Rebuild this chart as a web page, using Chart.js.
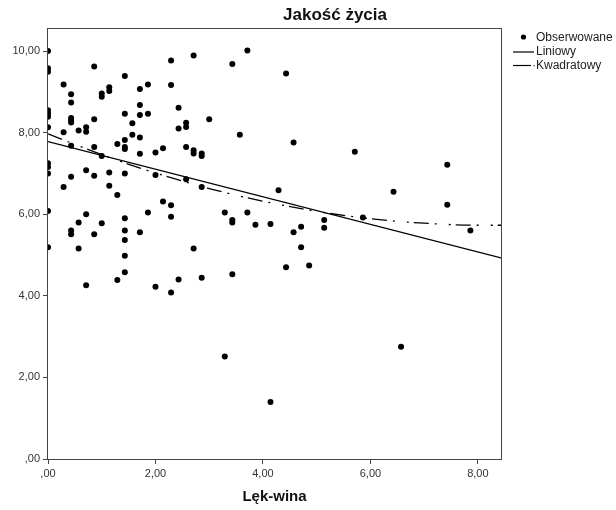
<!DOCTYPE html>
<html>
<head>
<meta charset="utf-8">
<script src="https://cdn.jsdelivr.net/npm/chart.js@4.4.1/dist/chart.umd.min.js"></script>
<style>
  html, body { margin: 0; padding: 0; background: #fff; }
</style>
</head>
<body>
<canvas id="fitChart" width="616" height="510"></canvas>
<script>
// observed cases: Lęk-wina (x) vs Jakość życia (y)
const lekWina = [
  0, 0, 0, 0, 0, 0, 0, 0, 0, 0, 0, 0,
  0.29, 0.29, 0.29,
  0.43, 0.43, 0.43, 0.43, 0.43, 0.43, 0.43, 0.43, 0.43,
  0.57, 0.57, 0.57,
  0.71, 0.71, 0.71, 0.71, 0.71,
  0.86, 0.86, 0.86, 0.86, 0.86,
  1.00, 1.00, 1.00, 1.00,
  1.14, 1.14, 1.14, 1.14,
  1.29, 1.29, 1.29,
  1.43, 1.43, 1.43, 1.43, 1.43, 1.43, 1.43, 1.43, 1.43, 1.43, 1.43,
  1.57, 1.57,
  1.71, 1.71, 1.71, 1.71, 1.71, 1.71,
  1.86, 1.86, 1.86,
  2.00, 2.00, 2.00,
  2.14, 2.14,
  2.29, 2.29, 2.29, 2.29, 2.29,
  2.43, 2.43, 2.43,
  2.57, 2.57, 2.57, 2.57,
  2.71, 2.71, 2.71, 2.71,
  2.86, 2.86, 2.86, 2.86,
  3.00,
  3.29, 3.29,
  3.43, 3.43, 3.43, 3.43,
  3.57,
  3.71, 3.71,
  3.86,
  4.14, 4.14,
  4.29,
  4.43, 4.43,
  4.57, 4.57,
  4.71, 4.71,
  4.86,
  5.14, 5.14,
  5.71,
  5.86,
  6.43,
  6.57,
  7.43, 7.43,
  7.86
];
const jakoscZycia = [
  10.00, 9.58, 9.49, 8.55, 8.47, 8.39, 8.13, 7.25, 7.16, 7.00, 6.08, 5.19,
  9.18, 8.01, 6.67,
  8.94, 8.74, 8.36, 8.30, 8.25, 7.68, 6.92, 5.60, 5.51,
  8.05, 5.80, 5.16,
  8.13, 8.02, 7.08, 6.00, 4.26,
  9.62, 8.33, 7.65, 6.94, 5.51,
  8.96, 8.88, 7.43, 5.78,
  9.11, 9.02, 7.02, 6.70,
  7.72, 6.47, 4.39,
  9.39, 8.46, 7.82, 7.65, 7.60, 7.00, 5.90, 5.60, 5.37, 4.98, 4.58,
  8.23, 7.95,
  9.07, 8.68, 8.43, 7.88, 7.48, 5.56,
  9.18, 8.46, 6.04,
  7.51, 6.96, 4.22,
  7.62, 6.31,
  9.77, 9.17, 6.22, 5.94, 4.08,
  8.61, 8.10, 4.40,
  8.24, 8.14, 7.65, 6.86,
  9.89, 7.57, 7.49, 5.16,
  7.49, 7.43, 6.67, 4.44,
  8.33,
  6.04, 2.51,
  9.68, 5.86, 5.80, 4.53,
  7.95,
  10.01, 6.04,
  5.74,
  5.76, 1.40,
  6.59,
  9.45, 4.70,
  7.76, 5.56,
  5.69, 5.19,
  4.74,
  5.86, 5.67,
  7.53,
  5.92,
  6.55,
  2.75,
  7.21, 6.23,
  5.60
];

// fitted lines
const linearX = [0, 8.43];
const linearY = [7.78, 4.93];
const quadX = [0, 1, 2, 3, 4, 5, 6, 7, 8, 8.43];
const quadY = [7.97, 7.46, 7.01, 6.63, 6.32, 6.07, 5.89, 5.78, 5.73, 5.73];

const xTicks = [0, 2, 4, 6, 8];
const yTicks = [0, 2, 4, 6, 8, 10];
const legendLabels = ["Obserwowane", "Liniowy", "Kwadratowy"];

const toPoints = (xs, ys) => xs.map((x, i) => ({ x: x, y: ys[i] }));
const fmt = (v) => (v === 0 ? ",00" : v.toFixed(2).replace(".", ","));

const QUAD_DASH = [15, 6, 2, 12, 2, 5];

// frame round the plot, the title and the legend on the right
const framePlugin = {
  id: "framePlugin",
  beforeDatasetsDraw(chart) {
    const { ctx, chartArea: a } = chart;
    ctx.save();
    ctx.strokeStyle = "#444";
    ctx.lineWidth = 1;
    ctx.strokeRect(Math.round(a.left) - 0.5, Math.round(a.top) - 0.5,
      Math.round(a.right - a.left) + 1, Math.round(a.bottom - a.top) + 1);
    ctx.restore();
  },
  afterDraw(chart) {
    const ctx = chart.ctx;
    ctx.save();
    ctx.fillStyle = "#111";
    ctx.font = "bold 17px Arial, 'Liberation Sans', sans-serif";
    ctx.textAlign = "center";
    ctx.textBaseline = "middle";
    ctx.fillText("Jakość życia", 335, 15);

    ctx.font = "12px Arial, 'Liberation Sans', sans-serif";
    ctx.textAlign = "left";
    ctx.fillStyle = "#222";
    // observed marker
    ctx.beginPath();
    ctx.arc(523.5, 37, 2.6, 0, Math.PI * 2);
    ctx.fillStyle = "#000";
    ctx.fill();
    ctx.fillStyle = "#222";
    ctx.fillText(legendLabels[0], 536, 37.5);
    // linear
    ctx.strokeStyle = "#000";
    ctx.lineWidth = 1.2;
    ctx.beginPath();
    ctx.moveTo(513, 52);
    ctx.lineTo(534, 52);
    ctx.stroke();
    ctx.fillText(legendLabels[1], 536, 52);
    // quadratic
    ctx.beginPath();
    ctx.moveTo(513, 65.5);
    ctx.lineTo(531, 65.5);
    ctx.stroke();
    ctx.fillRect(533.5, 65, 1.2, 1.2);
    ctx.fillText(legendLabels[2], 536, 65.5);
    ctx.restore();
  }
};

const tickGrid = {
  display: true,
  drawOnChartArea: false,
  drawTicks: true,
  tickLength: 5,
  color: "#444",
  lineWidth: 1
};

Chart.defaults.font.family = "Arial, 'Liberation Sans', sans-serif";

new Chart(document.getElementById("fitChart"), {
  type: "scatter",
  data: {
    datasets: [
      {
        label: legendLabels[0],
        data: toPoints(lekWina, jakoscZycia),
        backgroundColor: "#000",
        borderWidth: 0,
        pointRadius: 3,
        order: 2
      },
      {
        label: legendLabels[1],
        data: toPoints(linearX, linearY),
        showLine: true,
        borderColor: "#000",
        borderWidth: 1.3,
        pointRadius: 0,
        order: 1
      },
      {
        label: legendLabels[2],
        data: toPoints(quadX, quadY),
        showLine: true,
        cubicInterpolationMode: "monotone",
        borderColor: "#000",
        borderWidth: 1.3,
        borderDash: QUAD_DASH,
        pointRadius: 0,
        order: 0
      }
    ]
  },
  options: {
    responsive: false,
    animation: false,
    layout: { padding: { top: 29, right: 115, left: 0, bottom: 0 } },
    plugins: {
      legend: { display: false },
      tooltip: { enabled: false }
    },
    scales: {
      x: {
        type: "linear",
        min: 0,
        max: 8.43,
        afterBuildTicks: (scale) => { scale.ticks = xTicks.map((v) => ({ value: v })); },
        afterFit: (scale) => { scale.height = 51; },
        grid: tickGrid,
        border: { display: false },
        ticks: {
          padding: 3,
          color: "#333",
          font: { size: 11 },
          callback: (v) => fmt(v)
        },
        title: {
          display: true,
          text: "Lęk-wina",
          color: "#111",
          font: { size: 15, weight: "bold" },
          padding: { top: 0, bottom: 4 }
        }
      },
      y: {
        type: "linear",
        min: 0,
        max: 10.54,
        afterBuildTicks: (scale) => { scale.ticks = yTicks.map((v) => ({ value: v })); },
        afterFit: (scale) => { scale.width = 48; },
        grid: tickGrid,
        border: { display: false },
        ticks: {
          padding: 3,
          color: "#333",
          font: { size: 11 },
          callback: (v) => fmt(v)
        }
      }
    }
  },
  plugins: [framePlugin]
});
</script>
</body>
</html>
